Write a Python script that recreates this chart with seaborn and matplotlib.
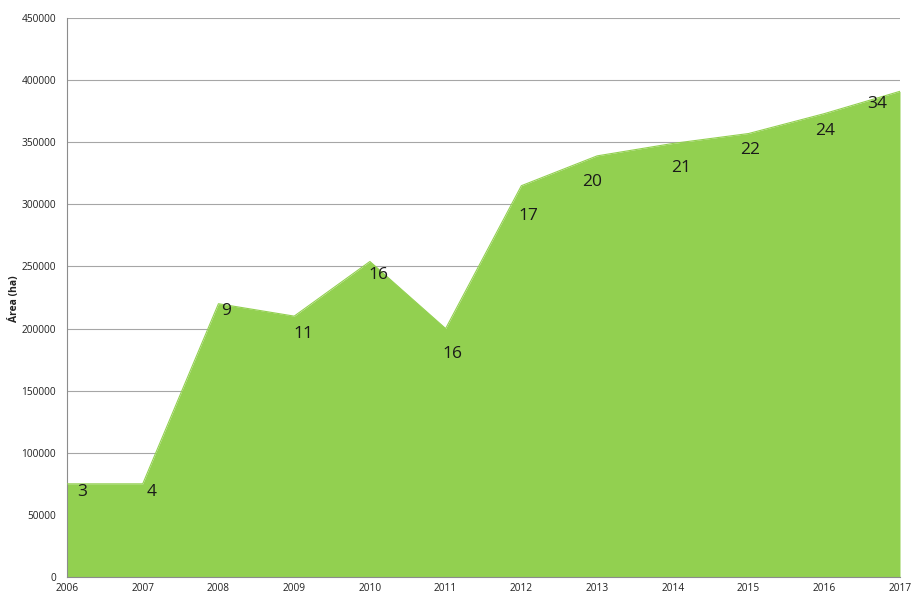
import matplotlib
matplotlib.use("Agg")
import matplotlib.pyplot as plt
import seaborn as sns
import pandas as pd

years = [2006, 2007, 2008, 2009, 2010, 2011, 2012, 2013, 2014, 2015, 2016, 2017]
area_ha = [75000, 75000, 220000, 210000, 254000, 200000, 315000, 339000, 349000, 357000, 373000, 391000]
counts = ["3", "4", "9", "11", "16", "16", "17", "20", "21", "22", "24", "34"]
y_ticks = list(range(0, 450001, 50000))

# label offsets in pixels (dx, dy)
offsets = [(15, -8), (9, -8), (8, -7), (9, -18), (9, -14), (7, -25),
           (7, -30), (-5, -26), (8, -25), (2, -16), (1, -17), (-23, -13)]

sns.set_theme(style="white")
plt.rcParams['font.family'] = ['Open Sans', 'DejaVu Sans']

df = pd.DataFrame({"year": years, "area": area_ha})
green = "#92D050"

fig = plt.figure(figsize=(9.11, 5.97), dpi=100)
ax = fig.add_axes([67/911, 20/597, (900-67)/911, (577-18)/597])

ax.fill_between(df["year"], 0, df["area"], color=green, linewidth=0, zorder=2)
sns.lineplot(data=df, x="year", y="area", ax=ax, color=green, linewidth=0.8, zorder=3)

for x, y, t, (dx, dy) in zip(years, area_ha, counts, offsets):
    ax.annotate(t, (x, y), xytext=(dx, dy), textcoords="offset pixels",
                ha="center", va="center", fontsize=12.5, color="#1a1a1a", zorder=4)

ax.set_xlim(2006, 2017)
ax.set_ylim(0, 450000)
ax.set_xticks(years)
ax.set_xticklabels([str(y) for y in years], fontsize=7.3, color="#222222")
ax.set_yticks(y_ticks)
ax.set_yticklabels([str(v) for v in y_ticks], fontsize=7.3, color="#222222")
ax.tick_params(axis="both", length=0)
ax.tick_params(axis="y", pad=8)
ax.tick_params(axis="x", pad=4)
ax.yaxis.grid(True, color="#A6A6A6", linewidth=0.8, zorder=1)
ax.xaxis.grid(False)
ax.set_axisbelow(True)
for s in ["top", "right"]:
    ax.spines[s].set_visible(False)
ax.spines["left"].set_color("#8C8C8C")
ax.spines["left"].set_linewidth(0.8)
ax.spines["bottom"].set_color("#8C8C8C")
ax.spines["bottom"].set_linewidth(0.8)

ax.set_xlabel("")
ax.set_ylabel("Área (ha)", fontsize=7.5, fontweight="bold", color="#222222")
ax.yaxis.set_label_coords(-0.056, 0.497)

fig.savefig("out.png", dpi=100, facecolor="white")
